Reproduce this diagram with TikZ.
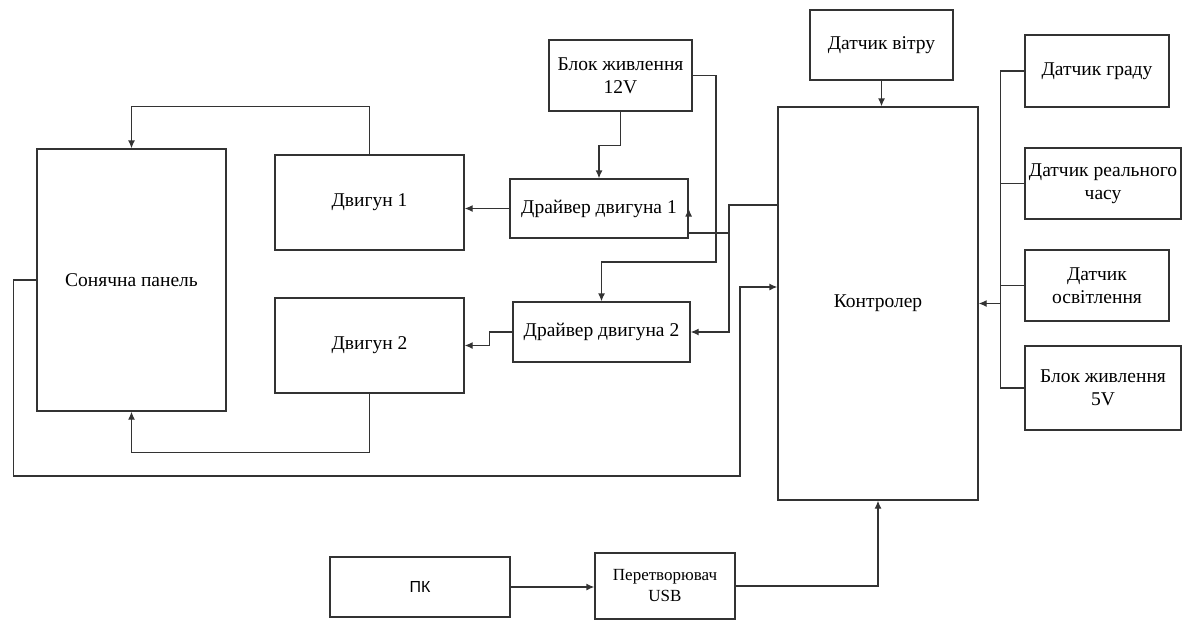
\documentclass[tikz,border=0pt]{standalone}
\usepackage{fontspec}
\setmainfont{Liberation Serif}
\newfontfamily\pcfont{Liberation Sans}
\usetikzlibrary{arrows.meta}

\begin{document}
\begin{tikzpicture}[
    x=1pt, y=-1pt,
    line width=1.3pt,
    draw=black!80,
    font=\fontsize{19.5}{23}\selectfont,
    box/.style={draw, align=center, inner sep=2pt},
    link/.style={-{Latex[length=8pt,width=7pt]}}
  ]
  \useasboundingbox (0,0) rectangle (1188,619);
  % blocks
  \node (panel) [box, minimum width=189pt, minimum height=262pt] at (131.5,280) {Сонячна панель};
  \node (motorA) [box, minimum width=189pt, minimum height=95pt] at (369.5,202.5) {Двигун 1};
  \node (motorB) [box, minimum width=189pt, minimum height=95pt] at (369.5,345.5) {Двигун 2};
  \node (psuA) [box, minimum width=143pt, minimum height=71pt] at (620.5,75.5) {Блок живлення\\12V};
  \node (drvA) [box, minimum width=178pt, minimum height=59pt] at (599,208.5) {Драйвер двигуна 1};
  \node (drvB) [box, minimum width=177pt, minimum height=60pt] at (601.5,332) {Драйвер двигуна 2};
  \node (wind) [box, minimum width=143pt, minimum height=70pt] at (881.5,45) {Датчик вітру};
  \node (ctrl) [box, minimum width=200pt, minimum height=393pt] at (878,303.5) {Контролер};
  \node (hail) [box, minimum width=144pt, minimum height=72pt] at (1097,71) {Датчик граду};
  \node (rtc) [box, minimum width=156pt, minimum height=71pt] at (1103,183.5) {Датчик реального\\часу};
  \node (light) [box, minimum width=144pt, minimum height=71pt] at (1097,285.5) {Датчик\\освітлення};
  \node (psuB) [box, minimum width=156pt, minimum height=84pt] at (1103,388) {Блок живлення\\5V};
  \node (pc) [box, minimum width=180pt, minimum height=60pt, font=\pcfont\fontsize{16}{19}\selectfont] at (420,587) {ПК};
  \node (usb) [box, minimum width=140pt, minimum height=66pt, font=\fontsize{17}{21}\selectfont] at (665,586) {Перетворювач\\USB};
  \coordinate (bus) at (1001,303.5);
  \coordinate (split) at (729,233);

  % connectors
  \draw[link] (motorA.north) -- ++(0,-48) -| (panel.north);
  \draw[link] (motorB.south) -- ++(0,59) -| (panel.south);
  \draw[link] (drvA.west) -- (drvA.west -| motorA.east);
  \draw[link] (drvB.west) -- ++(-23,0) |- (motorB.east);
  \draw[link] (psuA.south) -- ++(0,34) -| (drvA.north);
  \draw[link] (psuA.east) -| (716,262) -| (drvB.north);
  \draw[link] ([yshift=98.5pt]ctrl.west) -| (split) |- (drvB.east);
  \draw[link] (split) -| (drvA.east);
  \draw[link] (panel.west) -- ++(-23,0) |- (740,476) |- ([yshift=16.5pt]ctrl.west);
  \draw[link] (wind.south) -- (wind.south |- ctrl.north);
  \draw (hail.west) -- ++(-24,0) |- (psuB.west);
  \draw (rtc.west) -- ++(-24,0);
  \draw (light.west) -- ++(-24,0);
  \draw[link] (bus) -- (ctrl.east);
  \draw[link] (pc.east) -- (pc.east -| usb.west);
  \draw[link] (usb.east) -| (ctrl.south);
\end{tikzpicture}
\end{document}
